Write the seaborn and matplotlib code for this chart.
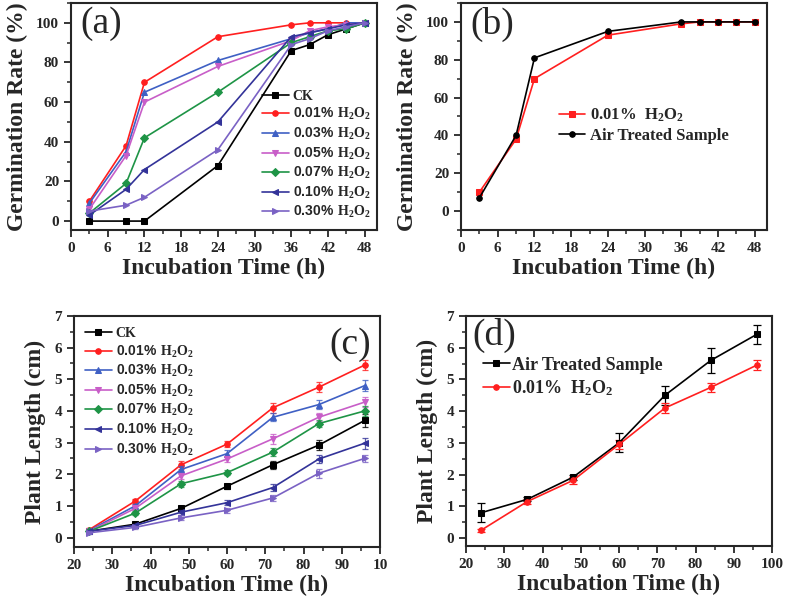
import matplotlib
matplotlib.use("Agg")
import matplotlib.pyplot as plt
import seaborn as sns
import pandas as pd
from matplotlib.ticker import MultipleLocator

sns.set_style("ticks")
plt.rcParams['font.family'] = ['Liberation Serif', 'DejaVu Serif']
plt.rcParams['font.weight'] = 'bold'
plt.rcParams['mathtext.fontset'] = 'custom'
plt.rcParams['mathtext.rm'] = 'Liberation Serif:bold'
plt.rcParams['mathtext.sf'] = 'Liberation Sans:bold'

# germination data (panels a, b)
germ_time = [3, 9, 12, 24, 36, 39, 42, 45, 48]
germ_ck = [0, 0, 0, 28, 86, 89, 94, 97, 100]
germ_001 = [10, 38, 70, 93, 99, 100, 100, 100, 100]
germ_003 = [9, 35, 65, 81, 92, 95, 97, 100, 100]
germ_005 = [6, 33, 60, 78, 91, 96, 98, 99, 100]
germ_007 = [4, 19, 42, 65, 90, 93, 96, 97, 100]
germ_010 = [3, 16, 26, 50, 93, 95, 97, 99, 100]
germ_030 = [5, 8, 12, 36, 89, 92, 96, 98, 100]
germ_air = [7, 40, 81, 95, 100, 100, 100, 100, 100]

# plant length data (panels c, d)
len_time = [24, 36, 48, 60, 72, 84, 96]
len_ck = [0.20, 0.42, 0.92, 1.62, 2.30, 2.92, 3.70]
len_001 = [0.25, 1.15, 2.30, 2.95, 4.10, 4.75, 5.45]
len_003 = [0.22, 1.00, 2.15, 2.65, 3.80, 4.20, 4.80]
len_005 = [0.20, 0.92, 1.95, 2.48, 3.12, 3.80, 4.28]
len_007 = [0.20, 0.77, 1.70, 2.05, 2.70, 3.60, 4.00]
len_010 = [0.20, 0.38, 0.80, 1.10, 1.58, 2.48, 2.98]
len_030 = [0.15, 0.32, 0.62, 0.86, 1.25, 2.03, 2.50]
len_air = [0.80, 1.22, 1.92, 3.00, 4.50, 5.60, 6.42]
len_001d = [0.25, 1.15, 1.82, 2.95, 4.10, 4.75, 5.45]

err_ck = [0.04, 0.05, 0.08, 0.08, 0.12, 0.15, 0.20]
err_001 = [0.05, 0.08, 0.12, 0.10, 0.15, 0.15, 0.17]
err_003 = [0.04, 0.06, 0.10, 0.10, 0.12, 0.15, 0.17]
err_005 = [0.04, 0.06, 0.10, 0.10, 0.15, 0.12, 0.17]
err_007 = [0.04, 0.06, 0.10, 0.08, 0.12, 0.12, 0.15]
err_010 = [0.04, 0.05, 0.08, 0.08, 0.12, 0.12, 0.17]
err_030 = [0.04, 0.05, 0.08, 0.08, 0.10, 0.15, 0.12]
err_air = [0.30, 0.06, 0.08, 0.30, 0.30, 0.40, 0.30]
err_001d = [0.05, 0.08, 0.12, 0.15, 0.15, 0.15, 0.15]

conc = ["0.01", "0.03", "0.05", "0.07", "0.10", "0.30"]
labels = ["CK"] + [r"$\mathsf{" + c + r"\%}\ \mathrm{H_2O_2}$" for c in conc]
label_001 = r"0.01%  $\mathrm{H_2O_2}$"
colors = ["#000000", "#ff1f1f", "#3f60c4", "#c85ec8", "#1e9446", "#333399", "#7a62c4"]
markers = ["s", "o", "^", "v", "D", "<", ">"]
msizes = [4, 4, 5, 5, 4, 5, 5]

germ_all = [germ_ck, germ_001, germ_003, germ_005, germ_007, germ_010, germ_030]
len_all = [len_ck, len_001, len_003, len_005, len_007, len_010, len_030]
err_all = [err_ck, err_001, err_003, err_005, err_007, err_010, err_030]

W, H = 787, 597
fig = plt.figure(figsize=(W / 100, H / 100), dpi=100)


def add_ax(l, r, t, b):
    return fig.add_axes([l / W, (H - b) / H, (r - l) / W, (b - t) / H])


ax_a = add_ax(71, 377, 3, 230)
ax_b = add_ax(461, 767, 3, 230)
ax_c = add_ax(74, 380, 316, 547)
ax_d = add_ax(466, 772, 316, 546)


def style(ax, xlabel, ylabel):
    for s in ax.spines.values():
        s.set_linewidth(1.5)
        s.set_visible(True)
    ax.tick_params(which='major', direction='out', length=5, width=1.3,
                   labelsize=11, top=False, right=False)
    ax.tick_params(which='minor', direction='out', length=3, width=1.1,
                   top=False, right=False)
    for t in ax.get_xticklabels() + ax.get_yticklabels():
        t.set_fontweight('bold')
    ax.set_xlabel(xlabel, fontsize=17, fontweight='bold', labelpad=2)
    ax.set_ylabel(ylabel, fontsize=17, fontweight='bold', labelpad=6)


# (a)
for y, lab, c, m, ms in zip(germ_all, labels, colors, markers, msizes):
    df = pd.DataFrame({"t": germ_time, "v": y})
    sns.lineplot(data=df, x="t", y="v", ax=ax_a, color=c, marker=m, markersize=ms,
                 markeredgecolor=c, linewidth=1.2, label=lab)
ax_a.set_xlim(0, 50)
ax_a.set_ylim(-4.5, 110)
ax_a.xaxis.set_major_locator(MultipleLocator(6))
ax_a.xaxis.set_minor_locator(MultipleLocator(3))
ax_a.yaxis.set_major_locator(MultipleLocator(20))
ax_a.yaxis.set_minor_locator(MultipleLocator(10))
style(ax_a, "Incubation Time (h)", "Germination Rate (%)")
ax_a.legend(loc='lower right', bbox_to_anchor=(1.01, 0.0), frameon=False,
            prop={'family': 'Liberation Serif', 'weight': 'bold', 'size': 10},
            labelspacing=0.25, handlelength=1.9, handletextpad=0.3, borderaxespad=0.3)
ax_a.text(0.03, 0.985, "(a)", transform=ax_a.transAxes, va='top', ha='left',
          fontsize=27, fontweight='normal')

# (b)
sns.lineplot(x=germ_time, y=germ_001, ax=ax_b, color="#ff1f1f", marker="s", markersize=4,
             markeredgecolor="#ff1f1f", linewidth=1.2, label=label_001)
sns.lineplot(x=germ_time, y=germ_air, ax=ax_b, color="#000000", marker="o", markersize=4,
             markeredgecolor="#000000", linewidth=1.2, label="Air Treated Sample")
ax_b.set_xlim(0, 50)
ax_b.set_ylim(-10, 110)
ax_b.xaxis.set_major_locator(MultipleLocator(6))
ax_b.xaxis.set_minor_locator(MultipleLocator(3))
ax_b.yaxis.set_major_locator(MultipleLocator(20))
ax_b.yaxis.set_minor_locator(MultipleLocator(10))
style(ax_b, "Incubation Time (h)", "Germination Rate (%)")
ax_b.legend(loc='upper left', bbox_to_anchor=(0.27, 0.61), frameon=False,
            prop={'family': 'Liberation Serif', 'weight': 'bold', 'size': 12},
            labelspacing=0.25, handlelength=1.6, handletextpad=0.3)
ax_b.text(0.03, 0.985, "(b)", transform=ax_b.transAxes, va='top', ha='left',
          fontsize=27, fontweight='normal')

# (c)
for y, e, lab, c, m, ms in zip(len_all, err_all, labels, colors, markers, msizes):
    ax_c.errorbar(len_time, y, yerr=e, fmt='none', ecolor=c, elinewidth=0.9,
                  capsize=2.5, capthick=0.9, alpha=0.8)
    sns.lineplot(x=len_time, y=y, ax=ax_c, color=c, marker=m, markersize=ms,
                 markeredgecolor=c, linewidth=1.2, label=lab)
ax_c.set_xlim(20, 100)
ax_c.set_ylim(-0.3, 7)
ax_c.xaxis.set_minor_locator(MultipleLocator(5))
ax_c.yaxis.set_major_locator(MultipleLocator(1))
ax_c.yaxis.set_minor_locator(MultipleLocator(0.5))
ax_c.set_xticks(range(20, 101, 10))
ax_c.set_xticklabels(["20", "30", "40", "50", "60", "70", "80", "90", "10"])
style(ax_c, "Incubation Time (h)", "Plant Length (cm)")
ax_c.legend(loc='upper left', bbox_to_anchor=(0.0, 1.0), frameon=False,
            prop={'family': 'Liberation Serif', 'weight': 'bold', 'size': 10},
            labelspacing=0.25, handlelength=1.9, handletextpad=0.3, borderaxespad=0.4)
ax_c.text(0.97, 0.95, "(c)", transform=ax_c.transAxes, va='top', ha='right',
          fontsize=27, fontweight='normal')

# (d)
ax_d.errorbar(len_time, len_air, yerr=err_air, fmt='none', ecolor="#000000",
              elinewidth=0.9, capsize=3, capthick=0.9)
ax_d.errorbar(len_time, len_001d, yerr=err_001d, fmt='none', ecolor="#ff1f1f",
              elinewidth=0.9, capsize=3, capthick=0.9)
sns.lineplot(x=len_time, y=len_air, ax=ax_d, color="#000000", marker="s", markersize=4,
             markeredgecolor="#000000", linewidth=1.2, label="Air Treated Sample")
sns.lineplot(x=len_time, y=len_001d, ax=ax_d, color="#ff1f1f", marker="o", markersize=4,
             markeredgecolor="#ff1f1f", linewidth=1.2, label=label_001)
ax_d.set_xlim(20, 100)
ax_d.set_ylim(-0.25, 7)
ax_d.xaxis.set_major_locator(MultipleLocator(10))
ax_d.xaxis.set_minor_locator(MultipleLocator(5))
ax_d.yaxis.set_major_locator(MultipleLocator(1))
ax_d.yaxis.set_minor_locator(MultipleLocator(0.5))
style(ax_d, "Incubation Time (h)", "Plant Length (cm)")
ax_d.legend(loc='upper left', bbox_to_anchor=(0.02, 0.87), frameon=False,
            prop={'family': 'Liberation Serif', 'weight': 'bold', 'size': 13},
            labelspacing=0.25, handlelength=1.5, handletextpad=0.1, borderaxespad=0.2)
ax_d.text(0.02, 0.99, "(d)", transform=ax_d.transAxes, va='top', ha='left',
          fontsize=27, fontweight='normal')

fig.savefig("out.png", dpi=100)
